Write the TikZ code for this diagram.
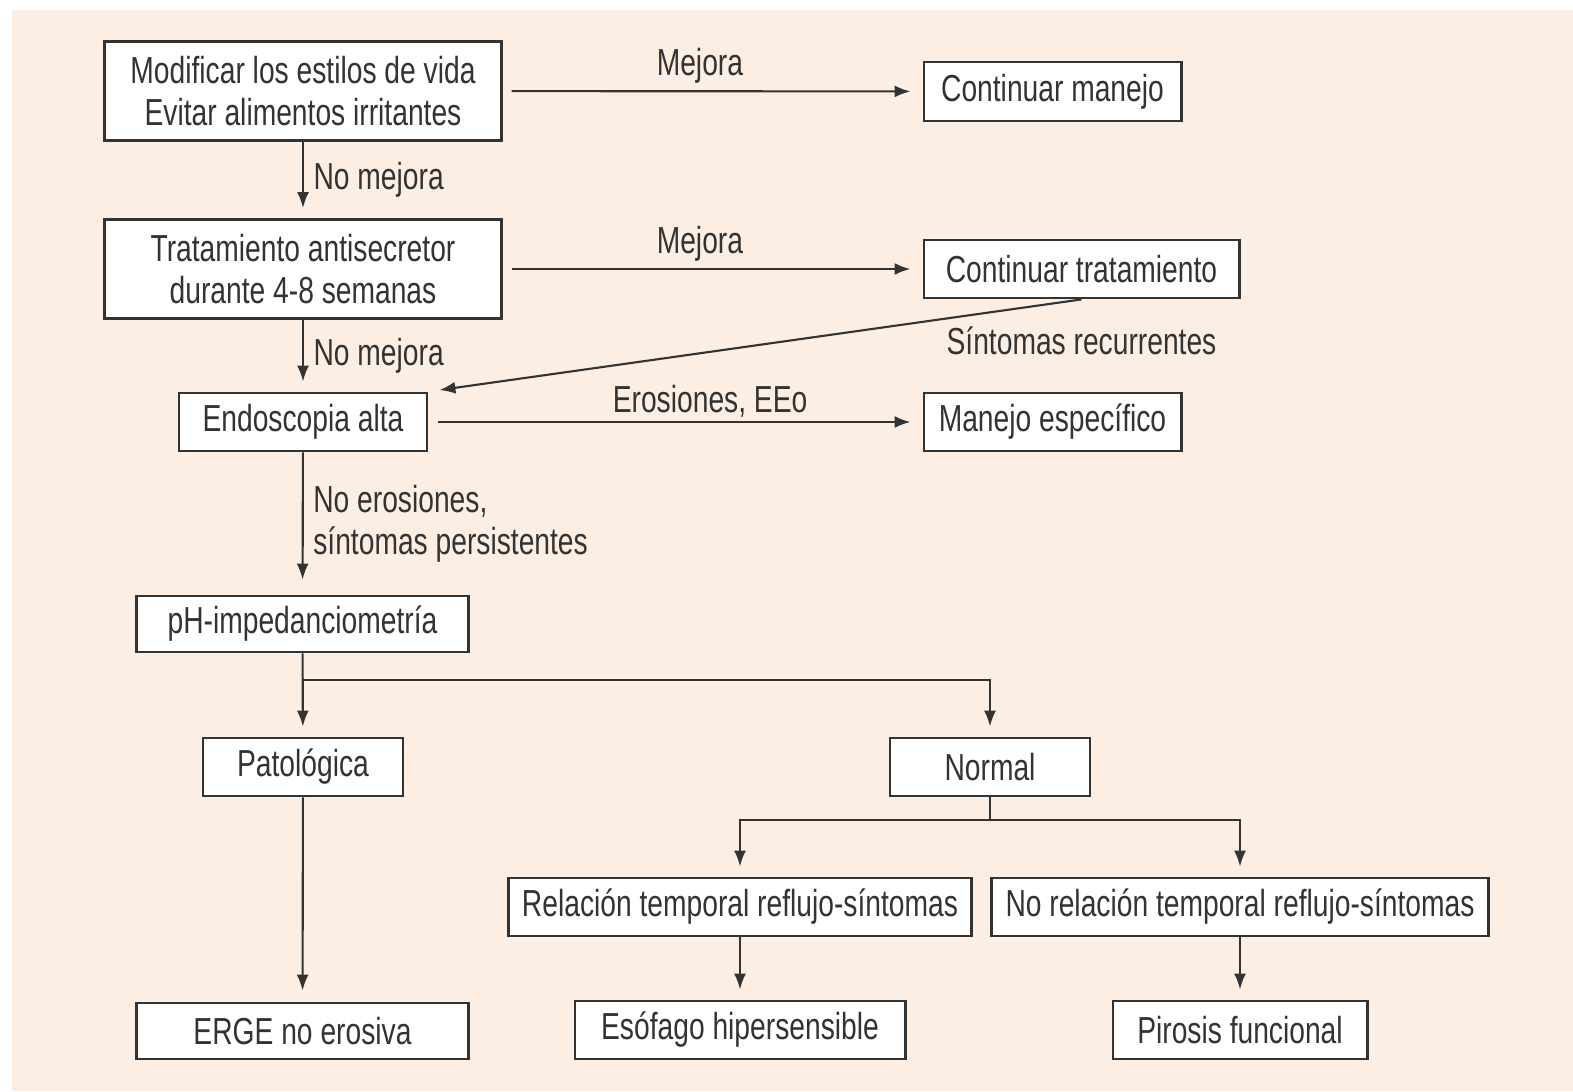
\documentclass[tikz,border=0pt]{standalone}
\usepackage{fontspec}
\setmainfont{Liberation Sans}[FakeStretch=0.75]
\usetikzlibrary{arrows.meta,positioning}
\definecolor{peach}{HTML}{FDEEE4}
\definecolor{ink}{HTML}{333333}
\tikzset{
  box/.style={draw=ink, line width=.8pt, fill=white, align=center, inner sep=0pt, font=\fontsize{10.7}{12}\selectfont, text=ink},
  ar/.style={-{Latex[length=1.6mm, width=1.2mm]}, line width=.6pt, draw=ink},
  ln/.style={line width=.6pt, draw=ink},
  lbl/.style={font=\fontsize{10.7}{12}\selectfont, text=ink, inner sep=1pt},
}
\begin{document}
\begin{tikzpicture}[x=0.01cm, y=-0.01cm]
    \useasboundingbox (0,0) rectangle (1573,1091);
    \fill[white] (0,0) rectangle (1573,1091);
    \fill[peach] (12,10) rectangle (1573,1091);

    \node[box, minimum width=3.96cm, minimum height=.99cm] (estilos) at (303,91) {Modificar los estilos de vida\\Evitar alimentos irritantes};
    \node[box, minimum width=2.57cm, minimum height=.59cm] (manejo) at (1052.5,91.5) {Continuar manejo};
    \node[box, minimum width=3.96cm, minimum height=.99cm] (antisec) at (303,269) {Tratamiento antisecretor\\durante 4-8 semanas};
    \node[box, minimum width=3.15cm, minimum height=.58cm] (contrat) at (1081.5,269) {Continuar tratamiento};
    \node[box, minimum width=2.48cm, minimum height=.58cm] (endosc) at (303,422) {Endoscopia alta};
    \node[box, minimum width=2.57cm, minimum height=.58cm] (especif) at (1052.5,422) {Manejo específico};
    \node[box, minimum width=3.31cm, minimum height=.56cm] (phimp) at (302.5,624) {pH-impedanciometría};
    \node[box, minimum width=2cm, minimum height=.58cm] (patol) at (303,767) {Patológica};
    \node[box, minimum width=2cm, minimum height=.58cm] (normal) at (990,767) {Normal};
    \node[box, minimum width=4.62cm, minimum height=.58cm] (relac) at (740,907) {Relación temporal reflujo-síntomas};
    \node[box, minimum width=4.96cm, minimum height=.58cm] (norelac) at (1240,907) {No relación temporal reflujo-síntomas};
    \node[box, minimum width=3.31cm, minimum height=.56cm] (erge) at (302.5,1031) {ERGE no erosiva};
    \node[box, minimum width=3.30cm, minimum height=.58cm] (esofago) at (740,1030) {Esófago hipersensible};
    \node[box, minimum width=2.54cm, minimum height=.58cm] (pirosis) at (1240,1030) {Pirosis funcional};

    \coordinate (fork1) at (303,680);
    \coordinate (fork2) at (990,820);

    \draw[ar, shorten <=.09cm, shorten >=.12cm] (estilos) -- node[lbl, pos=.47, above=.03cm] {Mejora} (manejo);
    \draw[ar, shorten >=.1cm] (estilos) -- node[lbl, right=.06cm] {No mejora} (antisec);
    \draw[ar, shorten <=.09cm, shorten >=.12cm] (antisec) -- node[lbl, pos=.47, above=.03cm] {Mejora} (contrat);
    \draw[ar, shorten >=.1cm] (antisec) -- node[lbl, right=.06cm] {No mejora} (endosc);
    \draw[ar, shorten >=.11cm] (contrat.south) -- node[lbl, at start, below=.23cm] {Síntomas recurrentes} (endosc.north east);
    \draw[ar, shorten <=.1cm, shorten >=.12cm] (endosc) -- node[lbl, pos=.57, above=0pt] {Erosiones, EEo} (especif);
    \draw[ar, shorten >=.15cm] (endosc) -- node[lbl, right=.06cm, align=left] {No erosiones,\\síntomas persistentes} (phimp);
    \draw[ar, shorten >=.1cm] (phimp) -- (patol);
    \draw[ar, shorten >=.1cm] (fork1) -| (normal);
    \draw[ar, shorten >=.11cm] (patol) -- (erge);
    \draw[ln] (normal) -- (fork2);
    \draw[ar, shorten >=.1cm] (fork2) -| (relac);
    \draw[ar, shorten >=.1cm] (fork2) -| (norelac);
    \draw[ar, shorten >=.1cm] (relac) -- (esofago);
    \draw[ar, shorten >=.1cm] (norelac) -- (pirosis);
\end{tikzpicture}
\end{document}
